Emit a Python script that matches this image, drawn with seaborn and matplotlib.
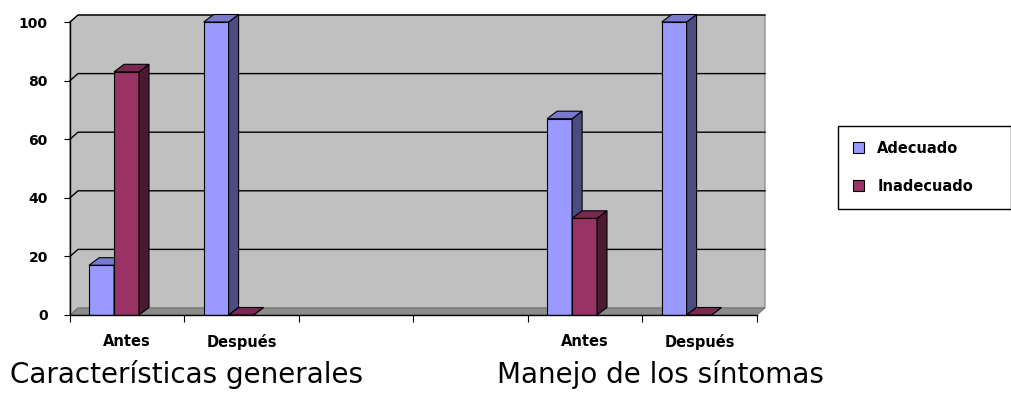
import pandas as pd
import matplotlib
matplotlib.use('Agg')
import matplotlib.pyplot as plt
import seaborn as sns
from matplotlib.patches import Polygon, Patch

# Data
slots = ['g1_antes', 'g1_despues', 'gap1', 'gap2', 'g2_antes', 'g2_despues']
bar_slots = ['g1_antes', 'g1_despues', 'g2_antes', 'g2_despues']
slot_labels = ['Antes', 'Después', 'Antes', 'Después']
groups = ['Características generales', 'Manejo de los síntomas']
series = ['Adecuado', 'Inadecuado']
adecuado = [17, 100, 67, 100]
inadecuado = [83, 0, 33, 0]
yticks = [0, 20, 40, 60, 80, 100]

front = {'Adecuado': '#9999FF', 'Inadecuado': '#993366'}
side = {'Adecuado': '#4C4C80', 'Inadecuado': '#4C1933'}
top = {'Adecuado': '#7A7ACC', 'Inadecuado': '#7A2952'}

df = pd.DataFrame({
    'slot': bar_slots * 2,
    'serie': ['Adecuado'] * 4 + ['Inadecuado'] * 4,
    'value': adecuado + inadecuado,
})

W, H = 1012, 394
fig = plt.figure(figsize=(W / 100, H / 100), dpi=100)
ax_l, ax_b, ax_w, ax_h = 70, 79, 687, 293
ax = fig.add_axes([ax_l / W, ax_b / H, ax_w / W, ax_h / H])

sns.barplot(data=df, x='slot', y='value', hue='serie', order=slots,
            hue_order=series, palette=front, saturation=1, width=0.435,
            errorbar=None, edgecolor='black', linewidth=0.8, legend=False, ax=ax)
bars = sorted(ax.patches, key=lambda p: p.get_x())

x0, x1 = -0.385, 5.615
ax.set_xlim(x0, x1)
ax.set_ylim(0, 100)
ax.set_facecolor('white')

# pixel offsets converted into data units for the fake 3D look
px_x = (x1 - x0) / ax_w
px_y = 100 / ax_h
wdx, wdy = 8 * px_x, 7 * px_y
bdx, bdy = 10 * px_x, 7.5 * px_y

# back wall, side wall and floor
ax.add_patch(Polygon([(x0, 0), (x0 + wdx, wdy), (x1 + wdx, wdy), (x1 + wdx, 100 + wdy),
                      (x0 + wdx, 100 + wdy), (x0, 100)], closed=True,
                     facecolor='#C0C0C0', edgecolor='#808080', lw=0.8,
                     zorder=0, clip_on=False))
ax.add_patch(Polygon([(x0, 0), (x1, 0), (x1 + wdx, wdy), (x0 + wdx, wdy)], closed=True,
                     facecolor='#8C8C8C', edgecolor='#6E6E6E', lw=0.6,
                     zorder=0.6, clip_on=False))
for y in yticks[1:]:
    ax.plot([x0, x0 + wdx, x1 + wdx], [y, y + wdy, y + wdy], color='black',
            lw=1.0, zorder=0.5, clip_on=False)

# side and top faces for every bar
for k, p in enumerate(bars):
    name = 'Adecuado' if p.get_facecolor()[2] > 0.8 else 'Inadecuado'
    bx, bw, bh = p.get_x(), p.get_width(), p.get_height()
    z = 2 + k * 0.1
    p.set_zorder(z)
    ax.add_patch(Polygon([(bx + bw, 0), (bx + bw + bdx, bdy), (bx + bw + bdx, bh + bdy),
                          (bx + bw, bh)], closed=True, facecolor=side[name],
                         edgecolor='black', lw=0.8, zorder=z + 0.01, clip_on=False))
    ax.add_patch(Polygon([(bx, bh), (bx + bdx, bh + bdy), (bx + bw + bdx, bh + bdy),
                          (bx + bw, bh)], closed=True, facecolor=top[name],
                         edgecolor='black', lw=0.8, zorder=z + 0.02, clip_on=False))

for s in ['top', 'right']:
    ax.spines[s].set_visible(False)
for s in ['left', 'bottom']:
    ax.spines[s].set_color('black')
    ax.spines[s].set_linewidth(1.0)
    ax.spines[s].set_zorder(5)

ax.set_yticks(yticks)
ax.set_yticklabels([str(v) for v in yticks], fontsize=10, fontweight='bold')
ax.tick_params(axis='y', length=4, pad=12, color='black')

ax.set_xticks([x0 + k for k in range(7)])
ax.set_xticklabels([])
lab_pos = [slots.index(s) + 0.115 for s in bar_slots]
ax.set_xticks(lab_pos, minor=True)
ax.set_xticklabels(slot_labels, minor=True, fontsize=10.5, fontweight='bold')
ax.tick_params(axis='x', which='major', length=5, color='black')
ax.tick_params(axis='x', which='minor', length=0, pad=14)
ax.set_xlabel('')
ax.set_ylabel('')

fig.text(10 / W, 11 / H, groups[0], fontsize=20, ha='left', va='baseline')
fig.text(497 / W, 11 / H, groups[1], fontsize=20, ha='left', va='baseline')

handles = [Patch(facecolor=front[s], edgecolor='black', lw=0.8, label=s) for s in series]
leg = fig.legend(handles=handles, loc='upper left',
                 bbox_to_anchor=(838 / W, 1 - 206 / H, 173 / W, 80 / H),
                 mode='expand', borderaxespad=0, fancybox=False, framealpha=1,
                 edgecolor='black', prop={'weight': 'bold', 'size': 10.5},
                 handlelength=0.8, handleheight=0.8, handletextpad=0.9,
                 labelspacing=1.6, borderpad=1.0)
leg.get_frame().set_linewidth(1.0)

fig.savefig('out.png', dpi=100)
